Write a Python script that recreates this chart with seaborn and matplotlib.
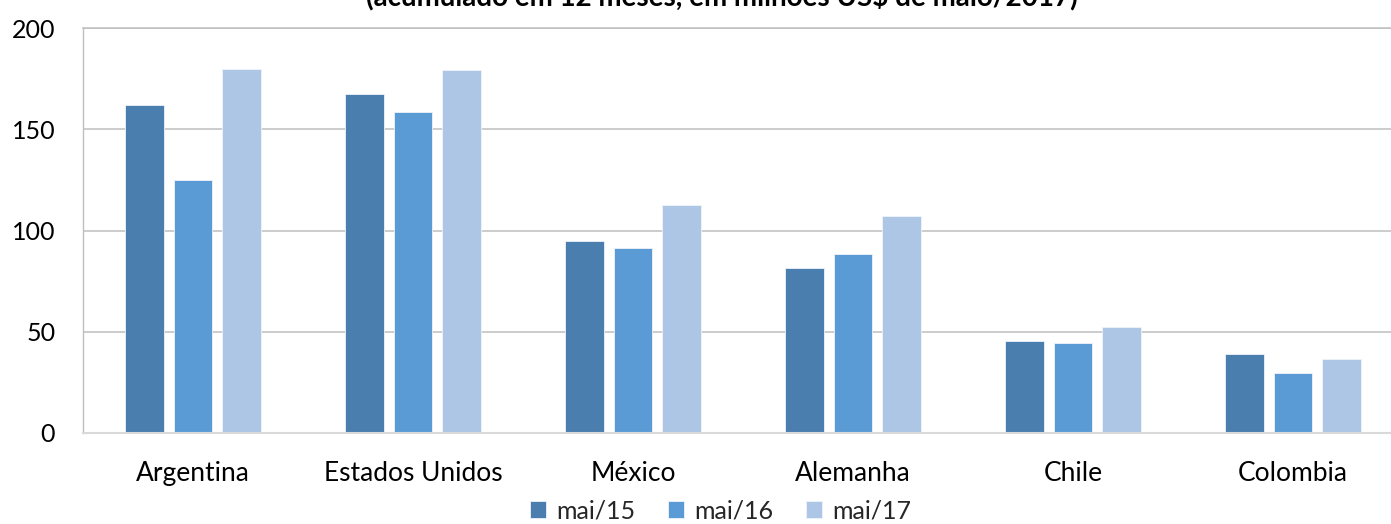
import matplotlib
matplotlib.use("Agg")
import matplotlib.pyplot as plt
import seaborn as sns
import pandas as pd

# Data: accumulated 12 months, millions of US$ (May/2017 prices)
paises = ["Argentina", "Estados Unidos", "México", "Alemanha", "Chile", "Colombia"]
periodos = ["mai/15", "mai/16", "mai/17"]
mai15 = [162.0, 167.5, 94.8, 81.7, 45.6, 39.1]
mai16 = [125.0, 158.7, 91.3, 88.5, 44.2, 29.8]
mai17 = [180.0, 179.3, 112.6, 107.1, 52.2, 36.3]
cores = ["#4A7EAF", "#5B9BD5", "#ADC6E5"]
titulo = "(acumulado em 12 meses, em milhões US$ de maio/2017)"
yticks = [0, 50, 100, 150, 200]

df = pd.DataFrame({
    "pais": paises * 3,
    "periodo": [p for p in periodos for _ in paises],
    "valor": mai15 + mai16 + mai17,
})

sns.set_theme(style="white")
plt.rcParams["font.family"] = ["Lato", "DejaVu Sans"]

W, H = 1391, 524
fig = plt.figure(figsize=(W / 100, H / 100), dpi=100)
ax = fig.add_axes([83 / W, 1 - 433 / H, 1320 / W, (433 - 28) / H])

sns.barplot(
    data=df, x="pais", y="valor", hue="periodo", order=paises,
    hue_order=periodos, palette=cores, width=0.664, gap=0.21,
    edgecolor="#EEF3FA", linewidth=0.6, saturation=1, ax=ax,
)

ax.set_xlim(-0.5, len(paises) - 0.5)
ax.set_ylim(0, 200)
ax.set_yticks(yticks)
ax.set_yticklabels([str(v) for v in yticks])
ax.set_xlabel("")
ax.set_ylabel("")
ax.yaxis.grid(True, color="#BFBFBF", linewidth=1.1)
ax.set_axisbelow(True)

ax.spines["right"].set_visible(False)
ax.spines["top"].set_color("#BFBFBF")
ax.spines["top"].set_linewidth(1.1)
ax.spines["left"].set_color("#BFBFBF")
ax.spines["left"].set_linewidth(1.0)
ax.spines["bottom"].set_color("#D9D9D9")
ax.spines["bottom"].set_linewidth(1.5)

ax.tick_params(axis="y", length=0, pad=20, labelsize=18, labelcolor="#000000")
ax.tick_params(axis="x", length=0, pad=20, labelsize=19, labelcolor="#000000")

leg = ax.legend(
    loc="center", bbox_to_anchor=(0.518, 1 - 511 / H),
    bbox_transform=fig.transFigure, ncol=3, frameon=False,
    fontsize=18, handlelength=0.65, handleheight=0.65,
    handletextpad=0.4, columnspacing=1.3, borderaxespad=0,
)

# Chart title sits at the top edge of the canvas
fig.text(0.519, 1 - 5 / H, titulo, ha="center", va="baseline",
         fontsize=20, fontweight="bold", color="#000000")

fig.savefig("out.png", dpi=100)
